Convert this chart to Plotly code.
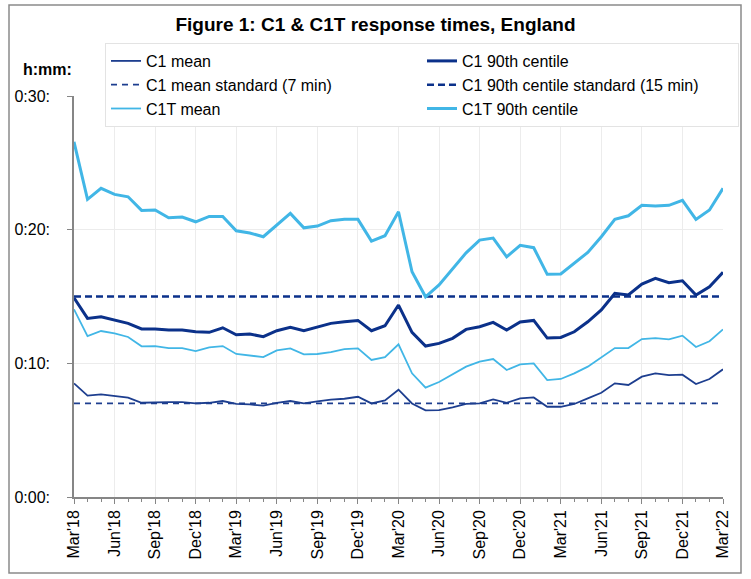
import plotly.graph_objects as go

months = ["Mar'18", "Apr'18", "May'18", "Jun'18", "Jul'18", "Aug'18", "Sep'18", "Oct'18", "Nov'18", "Dec'18", "Jan'19", "Feb'19",
          "Mar'19", "Apr'19", "May'19", "Jun'19", "Jul'19", "Aug'19", "Sep'19", "Oct'19", "Nov'19", "Dec'19", "Jan'20", "Feb'20",
          "Mar'20", "Apr'20", "May'20", "Jun'20", "Jul'20", "Aug'20", "Sep'20", "Oct'20", "Nov'20", "Dec'20", "Jan'21", "Feb'21",
          "Mar'21", "Apr'21", "May'21", "Jun'21", "Jul'21", "Aug'21", "Sep'21", "Oct'21", "Nov'21", "Dec'21", "Jan'22", "Feb'22",
          "Mar'22"]

# values in minutes
c1_mean = [8.50, 7.58, 7.68, 7.55, 7.43, 7.05, 7.10, 7.10, 7.10, 7.00, 7.05, 7.18,
           6.96, 6.93, 6.83, 7.05, 7.18, 7.00, 7.15, 7.28, 7.35, 7.50, 7.00, 7.23,
           8.03, 7.00, 6.48, 6.50, 6.71, 6.96, 7.00, 7.30, 7.05, 7.38, 7.45, 6.75,
           6.75, 6.96, 7.38, 7.80, 8.50, 8.38, 9.00, 9.25, 9.12, 9.15, 8.45, 8.83, 9.55]
c1_90 = [14.91, 13.36, 13.49, 13.24, 12.99, 12.57, 12.57, 12.49, 12.49, 12.36, 12.32, 12.66,
         12.14, 12.19, 11.99, 12.44, 12.69, 12.44, 12.69, 12.99, 13.11, 13.21, 12.44, 12.81,
         14.36, 12.32, 11.29, 11.49, 11.87, 12.54, 12.74, 13.06, 12.49, 13.09, 13.21, 11.89,
         11.94, 12.36, 13.11, 13.99, 15.23, 15.11, 15.93, 16.36, 16.03, 16.18, 15.11, 15.73, 16.81]
c1t_mean = [14.04, 12.04, 12.42, 12.24, 11.97, 11.27, 11.29, 11.14, 11.14, 10.92, 11.20, 11.29,
            10.70, 10.60, 10.47, 10.97, 11.12, 10.67, 10.70, 10.84, 11.07, 11.12, 10.25, 10.47,
            11.42, 9.25, 8.18, 8.60, 9.17, 9.75, 10.12, 10.32, 9.50, 9.92, 10.00, 8.75,
            8.83, 9.25, 9.75, 10.45, 11.14, 11.14, 11.82, 11.89, 11.79, 12.07, 11.22, 11.65, 12.54]
c1t_90 = [26.57, 22.27, 23.09, 22.64, 22.46, 21.44, 21.47, 20.89, 20.94, 20.59, 20.99, 20.99,
          19.92, 19.75, 19.47, 20.34, 21.22, 20.14, 20.27, 20.67, 20.77, 20.77, 19.15, 19.55,
          21.34, 16.85, 14.98, 15.86, 17.03, 18.27, 19.22, 19.37, 17.97, 18.83, 18.65, 16.66,
          16.68, 17.48, 18.30, 19.47, 20.77, 21.04, 21.82, 21.77, 21.82, 22.19, 20.77, 21.47, 23.09]
c1_mean_std = [7, 7, 7, 7, 7, 7, 7, 7, 7, 7, 7, 7, 7, 7, 7, 7, 7, 7, 7, 7, 7, 7, 7, 7, 7,
               7, 7, 7, 7, 7, 7, 7, 7, 7, 7, 7, 7, 7, 7, 7, 7, 7, 7, 7, 7, 7, 7, 7, 7]
c1_90_std = [15, 15, 15, 15, 15, 15, 15, 15, 15, 15, 15, 15, 15, 15, 15, 15, 15, 15, 15, 15, 15, 15, 15, 15, 15,
             15, 15, 15, 15, 15, 15, 15, 15, 15, 15, 15, 15, 15, 15, 15, 15, 15, 15, 15, 15, 15, 15, 15, 15]

y_ticks = [0, 10, 20, 30]
y_tick_text = ["0:00:", "0:10:", "0:20:", "0:30:"]

x = list(range(len(months)))

NAVY = "#0b318a"
NAVY2 = "#1d3e8f"
LIGHT = "#41b6e6"
FONT = "Liberation Sans, Arial, sans-serif"

fig = go.Figure()
fig.add_trace(go.Scatter(x=x, y=c1_mean, name="C1 mean", mode="lines",
                         line=dict(color=NAVY2, width=1.8)))
fig.add_trace(go.Scatter(x=x, y=c1_90, name="C1 90th centile", mode="lines",
                         line=dict(color=NAVY, width=3)))
fig.add_trace(go.Scatter(x=x, y=c1_mean_std, name="C1 mean standard (7 min)", mode="lines",
                         line=dict(color=NAVY2, width=1.8, dash="6px,5px")))
fig.add_trace(go.Scatter(x=x, y=c1_90_std, name="C1 90th centile standard (15 min)", mode="lines",
                         line=dict(color=NAVY, width=2.5, dash="7px,4px")))
fig.add_trace(go.Scatter(x=x, y=c1t_mean, name="C1T mean", mode="lines",
                         line=dict(color=LIGHT, width=1.8)))
fig.add_trace(go.Scatter(x=x, y=c1t_90, name="C1T 90th centile", mode="lines",
                         line=dict(color=LIGHT, width=3)))

fig.update_layout(
    width=751, height=579,
    margin=dict(l=74, r=28, t=96, b=82),
    paper_bgcolor="white", plot_bgcolor="white",
    font=dict(family=FONT, size=16, color="#000000"),
    title=dict(text="<b>Figure 1: C1 & C1T response times, England</b>",
               x=0.5, xref="container", y=1 - 24 / 579, yanchor="middle",
               font=dict(size=19, family=FONT, color="#000000")),
    showlegend=True,
    legend=dict(orientation="h", x=(105 - 74) / 649, xanchor="left",
                y=(497 - 43) / 401, yanchor="top",
                entrywidth=271, entrywidthmode="pixels",
                bgcolor="white", bordercolor="#e3e3e3", borderwidth=1,
                font=dict(size=16, family=FONT), traceorder="normal"),
    xaxis=dict(range=[0, 48], tickmode="array", tickvals=x[::3], ticktext=months[::3],
               tickangle=-90, ticks="outside", ticklen=5, tickcolor="#868686",
               showline=True, linecolor="#868686", linewidth=1.5,
               showgrid=True, gridcolor="#ececec", gridwidth=1, zeroline=False,
               minor=dict(dtick=1, tick0=0, ticks="outside", ticklen=3, tickcolor="#868686", showgrid=False),
               tickfont=dict(size=16, family=FONT)),
    yaxis=dict(range=[0, 30], tickmode="array", tickvals=y_ticks, ticktext=y_tick_text,
               ticks="outside", ticklen=5, tickcolor="#868686", ticklabelstandoff=14,
               showline=True, linecolor="#868686", linewidth=1.5,
               showgrid=True, gridcolor="#ececec", gridwidth=1, zeroline=False,
               tickfont=dict(size=16, family=FONT)),
)

fig.add_annotation(text="<b>h:mm:</b>", xref="paper", yref="paper",
                   x=(47 - 74) / 649, y=(497 - 69) / 401, showarrow=False,
                   xanchor="center", yanchor="middle",
                   font=dict(size=16, family=FONT, color="#000000"))

fig.add_shape(type="rect", xref="paper", yref="paper",
              x0=(9 - 74) / 649, x1=(741 - 74) / 649,
              y0=(497 - 573) / 401, y1=(497 - 5) / 401,
              line=dict(color="#8a8a8a", width=1.5), layer="below")

fig.write_html("out.html", config={"displayModeBar": False},
               post_script="document.body.style.margin='0';document.body.style.padding='0';")
